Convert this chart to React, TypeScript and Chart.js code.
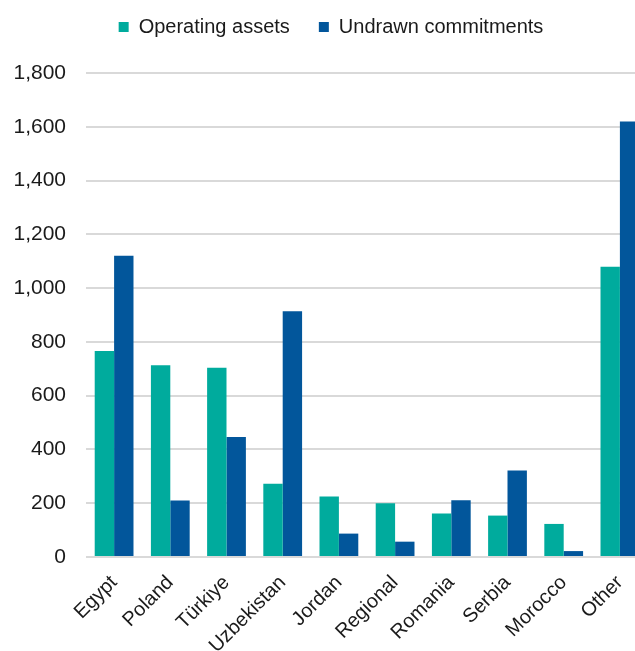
import React, { useEffect, useRef } from 'react';
import { Chart, registerables } from 'chart.js';

Chart.register(...registerables);

const categories = ['Egypt', 'Poland', 'Türkiye', 'Uzbekistan', 'Jordan', 'Regional', 'Romania', 'Serbia', 'Morocco', 'Other'];
const operatingAssets = [766, 713, 704, 272, 225, 200, 162, 154, 123, 1079];
const undrawnCommitments = [1120, 210, 446, 914, 87, 57, 211, 322, 22, 1620];
const seriesNames = ['Operating assets', 'Undrawn commitments'];
const yMin = 0;
const yMax = 1800;
const yStep = 200;

const FONT = "'Liberation Sans', Arial, sans-serif";
const TEAL = '#00AB9D';
const BLUE = '#02569B';

const legendTweak = {
  id: 'legendTweak',
  beforeInit(chart: any) {
    const legend = chart.legend;
    if (!legend) return;
    const origFit = legend.fit;
    legend.fit = function () {
      origFit.call(this);
      this.height = 65;
    };
    const origDraw = legend.draw;
    legend.draw = function () {
      const ctx = this.ctx;
      ctx.save();
      ctx.translate(3, -20);
      origDraw.call(this);
      ctx.restore();
    };
  },
};

export default function App() {
  const ref = useRef<HTMLCanvasElement>(null);

  useEffect(() => {
    document.documentElement.style.overflow = 'hidden';
    document.body.style.overflow = 'hidden';
    document.body.style.margin = '0';
    if (!ref.current) return;
    const chart = new Chart(ref.current, {
      type: 'bar',
      data: {
        labels: categories,
        datasets: [
          {
            label: seriesNames[0],
            data: operatingAssets,
            backgroundColor: TEAL,
            borderWidth: 0,
          },
          {
            label: seriesNames[1],
            data: undrawnCommitments,
            backgroundColor: BLUE,
            borderWidth: 0,
          },
        ],
      },
      options: {
        animation: false,
        responsive: false,
        maintainAspectRatio: false,
        layout: { padding: 0 },
        datasets: {
          bar: { categoryPercentage: 0.69, barPercentage: 1 },
        },
        plugins: {
          legend: {
            position: 'top',
            labels: {
              boxWidth: 10,
              boxHeight: 10,
              padding: 29,
              color: '#1a1a1a',
              font: { family: FONT, size: 20 },
            },
          },
          tooltip: { enabled: false },
        },
        scales: {
          x: {
            grid: { display: false },
            border: { display: false },
            ticks: {
              minRotation: 45,
              maxRotation: 45,
              color: '#1a1a1a',
              padding: 6,
              font: { family: FONT, size: 20 },
            },
            afterFit: (s: any) => {
              s.height = 94;
            },
          },
          y: {
            min: yMin,
            max: yMax,
            ticks: {
              stepSize: yStep,
              padding: 20,
              color: '#1a1a1a',
              font: { family: FONT, size: 21 },
              callback: (v: any) => Number(v).toLocaleString('en-US'),
            },
            grid: { color: '#d9d9d9', lineWidth: 2, drawTicks: false },
            border: { display: false },
            afterFit: (s: any) => {
              s.width = 78;
            },
          },
        },
      },
      plugins: [legendTweak],
    });
    return () => chart.destroy();
  }, []);

  return (
    <div
      style={{
        position: 'fixed',
        left: 0,
        top: 0,
        width: 635,
        height: 651,
        overflow: 'hidden',
        background: '#fff',
      }}
    >
      <canvas
        ref={ref}
        width={640}
        height={643}
        style={{ display: 'block', position: 'absolute', left: 8, top: 8 }}
      />
    </div>
  );
}
